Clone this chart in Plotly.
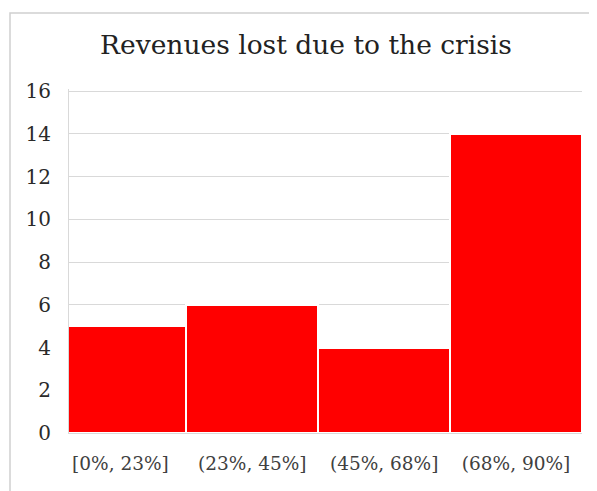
import plotly.graph_objects as go

# histogram bins and counts
bins = ["[0%, 23%]", "(23%, 45%]", "(45%, 68%]", "(68%, 90%]"]
counts = [5, 6, 4, 14]
y_ticks = [0, 2, 4, 6, 8, 10, 12, 14, 16]

W, H = 597, 491
off = 8  # page body margin
left, right, top, bottom = 69 - off, 582 - off, 89 - off, 433 - off
pw, ph = right - left, bottom - top

fig = go.Figure()
fig.add_trace(go.Bar(
    x=bins, y=counts,
    marker=dict(color="#ff0000", line=dict(color="white", width=2)),
    width=1.0,
))

fig.update_layout(
    width=W, height=H,
    margin=dict(l=left, r=W - right, t=top, b=H - bottom, pad=0),
    paper_bgcolor="white", plot_bgcolor="white",
    showlegend=False,
    bargap=0,
    title=dict(
        text="Revenues lost due to the crisis",
        x=(306 - off) / W, xanchor="center", y=1 - (45 - off) / H, yanchor="middle",
        font=dict(family="DejaVu Serif", size=26.5, color="#222222"),
    ),
    font=dict(family="DejaVu Serif"),
    xaxis=dict(
        range=[-0.39, 3.5],
        showgrid=False, showline=True, linecolor="#d9d9d9", linewidth=1,
        ticks="", tickfont=dict(size=18.5, color="#404040"),
        ticklabelstandoff=14,
    ),
    yaxis=dict(
        range=[0, 16.1], tickvals=y_ticks, showgrid=True,
        gridcolor="#d9d9d9", gridwidth=1, zeroline=False,
        showline=True, linecolor="#d9d9d9", linewidth=1,
        ticks="", tickfont=dict(size=20, color="#2a2a2a"),
        ticklabelstandoff=13,
    ),
)

# light outline around the chart area, as in the Excel export
fig.add_shape(
    type="rect", xref="paper", yref="paper",
    x0=(10 - off - left) / pw, x1=(W + 20 - left) / pw,
    y0=(bottom - (H + 20)) / ph, y1=(bottom - (13 - off)) / ph,
    line=dict(color="#d0d0d0", width=1.5), layer="below",
)

fig.write_html("out.html")
